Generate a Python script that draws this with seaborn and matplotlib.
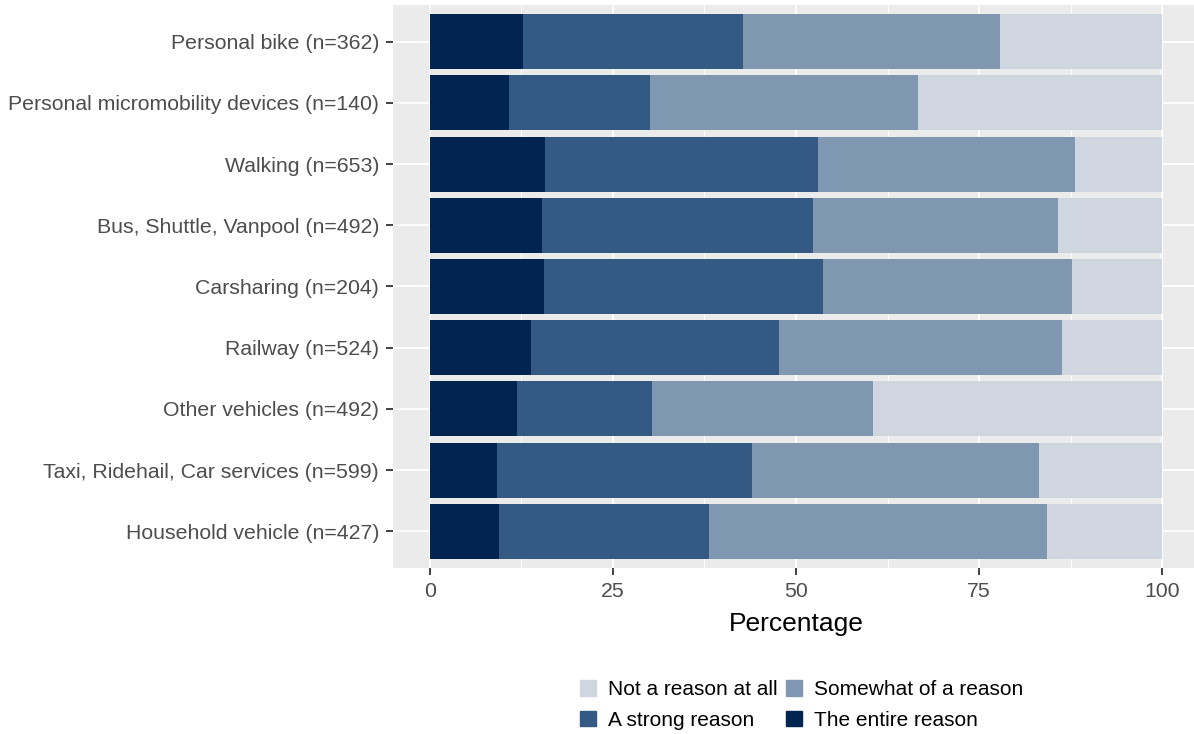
import seaborn as sns
import matplotlib.pyplot as plt
import pandas as pd
import numpy as np
from matplotlib.patches import Patch

modes = ['Personal bike (n=362)', 'Personal micromobility devices (n=140)',
         'Walking (n=653)', 'Bus, Shuttle, Vanpool (n=492)', 'Carsharing (n=204)',
         'Railway (n=524)', 'Other vehicles (n=492)',
         'Taxi, Ridehail, Car services (n=599)', 'Household vehicle (n=427)']

entire = [12.7, 10.8, 15.8, 15.4, 15.6, 13.8, 11.9, 9.2, 9.4]
strong = [30.1, 19.3, 37.2, 36.9, 38.1, 33.9, 18.4, 34.8, 28.7]
somewhat = [35.1, 36.6, 35.1, 33.4, 33.9, 38.6, 30.2, 39.2, 46.1]
not_reason = [22.1, 33.3, 11.9, 14.3, 12.4, 13.7, 39.5, 16.8, 15.8]

levels = ['Not a reason at all', 'Somewhat of a reason', 'A strong reason', 'The entire reason']
colors = ['#cfd6e0', '#8097b1', '#345a84', '#012550']

df = pd.DataFrame({'mode': modes, 'entire': entire, 'strong': strong,
                   'somewhat': somewhat, 'not': not_reason})
# cumulative ends for stacking (drawn back to front)
df['c_entire'] = df['entire']
df['c_strong'] = df['c_entire'] + df['strong']
df['c_somewhat'] = df['c_strong'] + df['somewhat']
df['c_not'] = df['c_somewhat'] + df['not']

sns.set_theme(style='darkgrid', rc={'axes.facecolor': '#ebebeb', 'grid.color': 'white'})
plt.rcParams['font.family'] = ['Liberation Sans', 'DejaVu Sans']

fig = plt.figure(figsize=(11.94, 7.34), dpi=100)
ax = fig.add_axes([393 / 1194, 1 - 568 / 734, 806 / 1194, 563 / 734])

for col, c in zip(['c_not', 'c_somewhat', 'c_strong', 'c_entire'], colors):
    sns.barplot(data=df, x=col, y='mode', orient='h', color=c, width=0.9,
                saturation=1, linewidth=0, ax=ax, zorder=3)

ax.set_xlim(-5, 105)
ax.set_ylim(8.6, -0.6)
ax.set_xticks([0, 25, 50, 75, 100])
ax.set_xticks([12.5, 37.5, 62.5, 87.5], minor=True)
ax.grid(True, which='major', color='white', linewidth=1.3)
ax.grid(True, which='minor', axis='x', color='white', linewidth=0.6)
ax.set_axisbelow(True)
for s in ax.spines.values():
    s.set_visible(False)

ax.tick_params(axis='both', which='major', bottom=True, left=True, length=5, width=1.3,
               color='#333333', labelcolor='#4d4d4d', labelsize=15.3, pad=5)
ax.tick_params(axis='x', which='minor', length=0)
ax.set_ylabel('')
ax.set_xlabel('Percentage', fontsize=19, color='black', labelpad=8)

handles = [Patch(color=colors[0]), Patch(color=colors[2]),
           Patch(color=colors[1]), Patch(color=colors[3])]
labels = [levels[0], levels[2], levels[1], levels[3]]
fig.legend(handles, labels, ncol=2, loc='center', bbox_to_anchor=(802 / 1194, 1 - 705 / 734),
           frameon=False, fontsize=15, handlelength=0.75, handleheight=0.75,
           handletextpad=0.6, columnspacing=0.4, labelspacing=0.55, labelcolor='black')

fig.savefig('out.png', dpi=100)
